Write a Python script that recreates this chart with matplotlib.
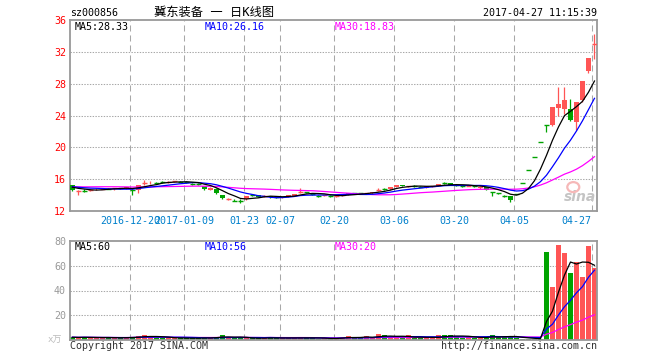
import matplotlib.pyplot as plt
import matplotlib.patches as mpatches
import numpy as np
import pandas as pd

plt.rcParams['font.family'] = ['DejaVu Sans Mono', 'Noto Sans CJK SC']

# daily bars of sz000856, oldest first (price in yuan)
opens = [15.23, 14.42, 14.60, 14.62, 14.72, 14.80, 14.85, 14.80, 14.86, 14.84,
         14.70, 14.64, 15.45, 15.52, 15.60, 15.62, 15.64, 15.68, 15.72, 15.70,
         15.42, 15.40, 15.14, 14.70, 14.80, 13.98, 13.45, 13.32, 13.33, 13.47,
         14.02, 13.95, 13.90, 13.85, 13.72, 13.70, 13.80, 13.94, 14.40, 14.36,
         14.16, 13.92, 13.92, 13.90, 13.88, 13.95, 14.02, 14.24, 14.22, 14.22,
         14.22, 14.65, 14.78, 14.75, 15.05, 15.28, 15.08, 15.14, 15.06, 14.95,
         15.12, 15.15, 15.50, 15.48, 15.28, 15.12, 15.16, 15.10, 14.88, 15.00,
         14.36, 14.22, 13.93, 13.88, 14.14, 15.55, 17.11, 18.82, 20.70, 22.77,
         22.80, 24.98, 24.80, 24.78, 23.20, 25.95, 29.60, 32.95]
highs = [15.30, 14.70, 14.72, 14.80, 14.85, 14.90, 14.92, 14.90, 14.95, 15.02,
         14.80, 15.30, 15.95, 15.80, 15.70, 15.72, 15.80, 15.80, 15.82, 15.78,
         15.50, 15.48, 15.20, 15.00, 14.85, 14.05, 13.60, 13.45, 13.45, 13.88,
         14.10, 14.00, 14.00, 13.90, 13.80, 13.82, 14.02, 14.15, 14.85, 14.45,
         14.25, 14.00, 14.02, 13.98, 14.00, 14.05, 14.28, 14.30, 14.28, 14.32,
         14.45, 14.95, 14.85, 15.02, 15.30, 15.32, 15.20, 15.22, 15.14, 15.16,
         15.20, 15.40, 15.62, 15.52, 15.35, 15.20, 15.26, 15.18, 15.08, 15.05,
         14.40, 14.30, 14.00, 13.92, 14.14, 15.55, 17.11, 18.82, 20.70, 22.77,
         25.05, 27.55, 27.55, 26.07, 25.70, 28.34, 31.20, 34.24]
lows = [14.50, 14.00, 14.45, 14.50, 14.65, 14.72, 14.75, 14.70, 14.78, 14.80,
        14.05, 14.30, 15.30, 15.40, 15.45, 15.50, 15.55, 15.60, 15.62, 15.55,
        15.30, 15.30, 14.70, 14.60, 14.15, 13.55, 13.35, 13.20, 12.98, 13.40,
        13.90, 13.75, 13.80, 13.65, 13.60, 13.62, 13.75, 13.88, 14.25, 14.25,
        14.05, 13.82, 13.85, 13.80, 13.70, 13.88, 13.98, 14.15, 14.12, 14.15,
        14.18, 14.55, 14.65, 14.70, 15.00, 15.08, 15.00, 15.05, 14.98, 14.90,
        15.05, 15.10, 15.40, 15.25, 15.18, 15.04, 15.10, 15.02, 14.82, 14.65,
        13.90, 14.10, 13.82, 13.17, 14.14, 15.55, 17.11, 18.82, 20.70, 21.97,
        22.70, 23.90, 24.20, 23.30, 22.20, 25.70, 29.40, 31.14]
closes = [14.65, 14.47, 14.56, 14.66, 14.80, 14.82, 14.80, 14.85, 14.84, 14.98,
          14.65, 15.27, 15.50, 15.58, 15.56, 15.60, 15.68, 15.72, 15.70, 15.66,
          15.38, 15.37, 14.73, 14.90, 14.20, 13.60, 13.50, 13.30, 13.30, 13.85,
          14.00, 13.82, 13.93, 13.72, 13.70, 13.78, 14.00, 14.14, 14.45, 14.33,
          14.14, 13.90, 13.95, 13.88, 13.92, 14.00, 14.25, 14.22, 14.20, 14.26,
          14.43, 14.70, 14.75, 15.00, 15.27, 15.14, 15.12, 15.10, 15.02, 15.14,
          15.16, 15.38, 15.48, 15.28, 15.25, 15.10, 15.20, 15.08, 15.05, 14.70,
          14.34, 14.20, 13.90, 13.40, 14.14, 15.55, 17.11, 18.82, 20.70, 22.77,
          25.05, 25.45, 25.95, 23.43, 25.70, 28.34, 31.20, 33.00]
# volume in 万手
volumes = [2.2, 2.0, 2.3, 2.0, 1.8, 1.9, 2.0, 1.8, 1.6, 2.0,
           2.7, 3.0, 4.0, 2.5, 2.0, 1.8, 1.6, 1.5, 1.5, 1.4,
           1.6, 1.5, 2.2, 1.6, 2.5, 4.0, 2.0, 1.6, 1.8, 1.5,
           1.4, 1.3, 1.5, 2.7, 1.4, 1.3, 1.4, 1.6, 2.7, 1.5,
           1.3, 1.2, 1.3, 1.2, 1.3, 2.7, 3.2, 1.6, 1.5, 3.2,
           1.8, 4.8, 4.0, 2.0, 2.4, 2.0, 4.0, 1.6, 1.6, 1.7,
           1.8, 4.0, 4.0, 4.0, 2.2, 1.8, 3.2, 1.6, 1.8, 2.0,
           4.0, 2.7, 2.7, 2.7, 2.0, 0.8, 0.6, 0.8, 1.2, 71,
           43, 77, 70, 54, 63, 51, 76, 58]
# closes before the first visible bar, used only to start the moving averages
prior_closes = [14.6, 14.7, 14.5, 14.6, 14.7, 14.8, 14.9, 15.0, 15.2, 15.3,
                15.4, 15.3, 15.2, 15.1, 15.2, 15.3, 15.4, 15.3, 15.2, 15.1,
                15.1, 15.2, 15.1, 15.0, 15.1, 15.2, 15.0, 15.1, 15.0]

tick_pos = [10, 19, 29, 35, 44, 54, 64, 74, 87]
tick_labels = ['2016-12-20', '2017-01-09', '01-23', '02-07', '02-20',
               '03-06', '03-20', '04-05', '04-27']
price_ticks = [12, 16, 20, 24, 28, 32, 36]
vol_ticks = [20, 40, 60, 80]

RED = '#ff5555'
GREEN = '#00a300'
GRID = '#a8a8a8'
FRAME = '#999999'
FS = 7.2

n = len(closes)
x = np.arange(n)
o = np.array(opens)
c = np.array(closes)
up = c > o
colors = np.where(up, RED, GREEN)

all_close = pd.Series(prior_closes + closes)
ma5 = all_close.rolling(5).mean().values[-n:]
ma10 = all_close.rolling(10).mean().values[-n:]
ma30 = all_close.rolling(30).mean().values[-n:]
vol = pd.Series(volumes)
vma5 = vol.rolling(5, min_periods=1).mean().values
vma10 = vol.rolling(10, min_periods=1).mean().values
vma30 = vol.rolling(30, min_periods=1).mean().values

fig = plt.figure(figsize=(6.6, 3.6), dpi=100)
ax = fig.add_axes([70 / 660, 1 - 211 / 360, 527 / 660, 191 / 360])
ax2 = fig.add_axes([70 / 660, 1 - 340 / 360, 527 / 660, 99 / 360])

grid_x = [p - 0.33 for p in tick_pos]
for a, yl, yt, grid_y in [(ax, (12, 36), price_ticks, price_ticks[1:-1]),
                          (ax2, (0, 80), vol_ticks, vol_ticks[:-1])]:
    a.set_xlim(-0.4, n - 1 + 0.42)
    a.set_ylim(*yl)
    for gx in grid_x:
        a.axvline(gx, color=GRID, lw=0.75, ls=(0, (5.8, 3.8)), zorder=0)
    for gy in grid_y:
        a.axhline(gy, color=GRID, lw=0.75, ls=(0, (1.33, 1.33)), zorder=0)
    a.set_xticks([])
    a.set_yticks(yt)
    a.tick_params(axis='y', length=0, pad=2.9, labelsize=FS)
    for s in a.spines.values():
        s.set_color(FRAME)
        s.set_linewidth(1.3)

ax.tick_params(axis='y', labelcolor='#ff0000')
ax2.tick_params(axis='y', labelcolor='#999999')

# candles
ax.vlines(x, lows, highs, colors=colors, lw=0.9, zorder=3)
body_h = np.abs(c - o)
flat = body_h < 0.06
ax.bar(x[~flat], body_h[~flat], bottom=np.minimum(o, c)[~flat], width=0.75,
       color=colors[~flat], lw=0, zorder=3)
ax.hlines(c[flat], x[flat] - 0.4, x[flat] + 0.4, colors=colors[flat], lw=1.0, zorder=3)

ax.plot(x, ma30, color='#ff00ff', lw=0.9, zorder=4)
ax.plot(x, ma10, color='#0000ff', lw=0.9, zorder=4)
ax.plot(x, ma5, color='black', lw=0.9, zorder=4)

# volume
ax2.bar(x, volumes, width=0.75, color=colors, lw=0, zorder=2)
ax2.plot(x, vma30, color='#ff00ff', lw=0.9, zorder=4)
ax2.plot(x, vma10, color='#0000ff', lw=0.9, zorder=4)
ax2.plot(x, vma5, color='black', lw=0.9, zorder=4)

# MA legends
for a, vals, fmt, yy in [(ax, (ma5, ma10, ma30), '{:.2f}', 1 - 6.5 / 191),
                         (ax2, (vma5, vma10, vma30), '{:.0f}', 1 - 5.5 / 99)]:
    for k, (name, col, xo) in enumerate([('MA5', 'black', 5), ('MA10', '#0000ff', 135),
                                         ('MA30', '#ff00ff', 265)]):
        a.text(xo / 527, yy, name + ':' + fmt.format(vals[k][-1]), color=col,
               fontsize=FS, transform=a.transAxes, va='center', ha='left', zorder=6)

# date labels (the first two overlap in the original as well)
for k, (gx, lab) in enumerate(zip(grid_x, tick_labels)):
    ha = 'right' if k == len(tick_labels) - 1 else 'center'
    xx = gx - 0.25 if ha == 'right' else gx
    ax.text(xx, -10 / 191, lab, color='#0080cc', fontsize=FS, ha=ha, va='center',
            transform=ax.get_xaxis_transform())

ax2.text(-8 / 527, 0.0, 'x万', color='#bbbbbb', fontsize=6.5, ha='right', va='center',
         transform=ax2.transAxes)

# sina watermark
ax.text(0.937, 0.073, 'sina', color='#c4c4c4', fontsize=10, style='italic',
        weight='bold', family='DejaVu Sans', transform=ax.transAxes, ha='left',
        va='center', zorder=1)
ax.add_patch(mpatches.Ellipse((0.955, 0.125), 12 / 527, 10 / 191, transform=ax.transAxes,
                              fc='none', ec='#f6b8b8', lw=1.6, zorder=1))

fig.text(70 / 660, 1 - 13 / 360, 'sz000856', fontsize=FS, ha='left', va='center')
fig.text(214 / 660, 1 - 12.5 / 360, '冀东装备 一 日K线图', fontsize=8.8, ha='center',
         va='center', family=['DejaVu Sans Mono', 'Noto Sans CJK SC'])
fig.text(597 / 660, 1 - 13 / 360, '2017-04-27 11:15:39', fontsize=FS, ha='right', va='center')
fig.text(70 / 660, 1 - 346 / 360, 'Copyright 2017 SINA.COM', fontsize=FS, color='#333333',
         ha='left', va='center')
fig.text(597 / 660, 1 - 346 / 360, 'http://finance.sina.com.cn', fontsize=FS, color='#333333',
         ha='right', va='center')

fig.savefig('out.png', dpi=100)
